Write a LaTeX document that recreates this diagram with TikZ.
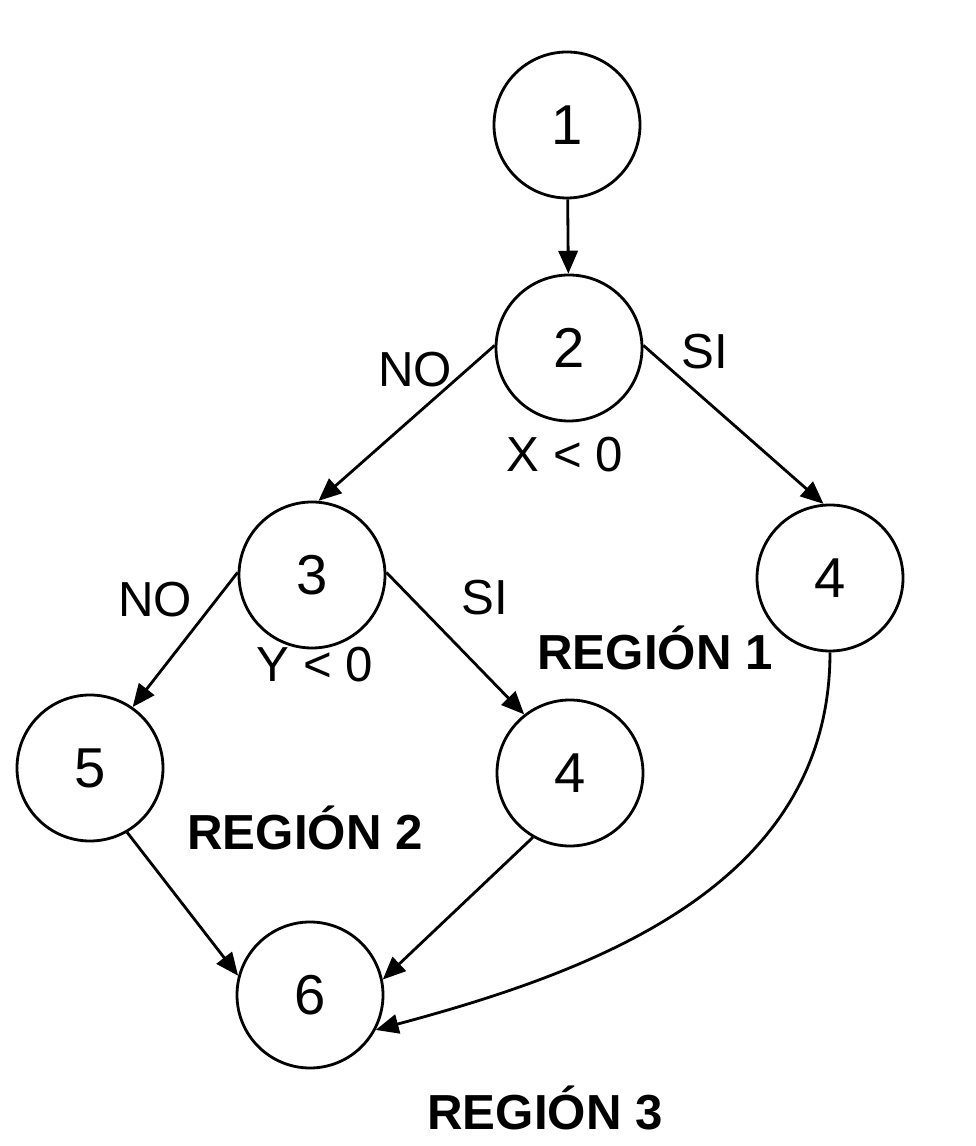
\documentclass[tikz,border=0pt]{standalone}
\usepackage{fontspec}
\setmainfont{Liberation Sans}
\usepackage{tikz}
\usetikzlibrary{arrows.meta,positioning}

\begin{document}
\begin{tikzpicture}[
        x=1cm, y=1cm,
        nodo/.style={circle, draw, line width=0.8pt, minimum size=1.46cm, inner sep=0pt, font=\fontsize{16}{18}\selectfont},
        flecha/.style={-{Triangle[length=6.5pt, width=5.5pt]}, line width=0.8pt},
        lbl/.style={font=\fontsize{14}{16}\selectfont},
        reg/.style={font=\fontsize{14}{16}\selectfont\bfseries},
    ]
    \useasboundingbox (0,0) rectangle (9.76,11.46);

    % Nodes of the flow graph
    \node[nodo] (n1) at (5.67,10.21) {1};
    \node[nodo] (n2) at (5.69,7.98) {2};
    \node[nodo] (n3) at (3.12,5.71) {3};
    \node[nodo] (n4r) at (8.30,5.68) {4};
    \node[nodo] (n5) at (0.90,3.78) {5};
    \node[nodo] (n4m) at (5.70,3.73) {4};
    \node[nodo] (n6) at (3.10,1.51) {6};

    % Edges
    \draw[flecha] (n1) -- (n2);
    \draw[flecha] (n2.178) -- (n3.85);
    \draw[flecha] (n2.2) -- (n4r.95);
    \draw[flecha] (n3.178) -- (n5.55);
    \draw[flecha] (n3.2) -- (n4m.128);
    \draw[flecha] (n5.-60) -- (n6.165);
    \draw[flecha] (n4m.240) -- (n6.12);
    \draw[flecha] (n4r.south) to[out=-90, in=15] (n6.-28);

    % Branch labels
    \node[lbl] at (4.15,7.76) {NO};
    \node[lbl] at (7.05,7.94) {SI};
    \node[lbl] at (5.65,6.91) {X < 0};
    \node[lbl] at (1.55,5.46) {NO};
    \node[lbl] at (4.85,5.48) {SI};
    \node[lbl] at (3.15,4.81) {Y < 0};

    % Regions
    \node[reg] at (6.55,4.98) {REGIÓN 1};
    \node[reg] at (3.05,3.18) {REGIÓN 2};
    \node[reg] at (5.45,0.38) {REGIÓN 3};
\end{tikzpicture}
\end{document}
